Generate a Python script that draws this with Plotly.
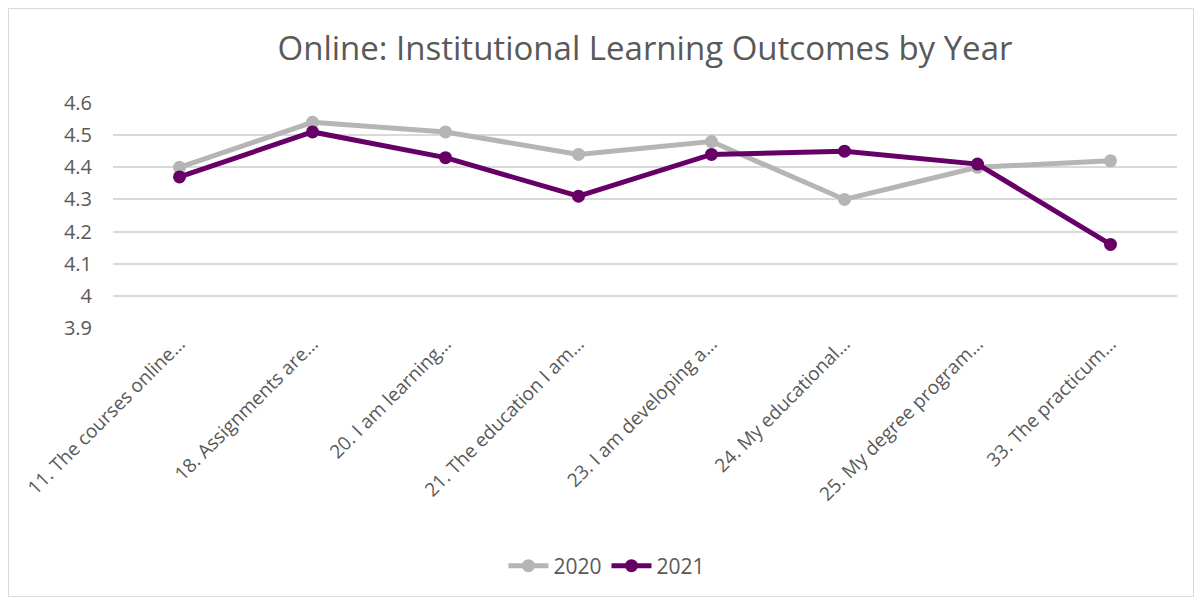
import plotly.graph_objects as go

categories = ["11. The courses online…", "18. Assignments are…", "20. I am learning…",
              "21. The education I am…", "23. I am developing a…", "24. My educational…",
              "25. My degree program…", "33. The practicum…"]
y2020 = [4.40, 4.54, 4.51, 4.44, 4.48, 4.30, 4.40, 4.42]
y2021 = [4.37, 4.51, 4.43, 4.31, 4.44, 4.45, 4.41, 4.16]
ytick_vals = [3.9, 4.0, 4.1, 4.2, 4.3, 4.4, 4.5, 4.6]
ytick_text = ["3.9", "4", "4.1", "4.2", "4.3", "4.4", "4.5", "4.6"]

# page has an 8px body margin; figure sized to fit inside
W, H = 1186, 589
ml, mr, mt, mb = 105, 17, 95, 269

fig = go.Figure()
fig.add_trace(go.Scatter(x=categories, y=y2020, name="2020", mode="lines+markers",
                         line=dict(color="#B5B5B5", width=5), marker=dict(size=13, color="#B5B5B5")))
fig.add_trace(go.Scatter(x=categories, y=y2021, name="2021", mode="lines+markers",
                         line=dict(color="#660066", width=5), marker=dict(size=13, color="#660066")))

pw = W - ml - mr
ph = H - mt - mb
fig.add_shape(type="rect", xref="paper", yref="paper",
              x0=(0.5 - ml) / pw, x1=(W - 0.5 - ml) / pw,
              y0=-(H - 0.5 - mt - ph) / ph, y1=1 + (mt - 0.5) / ph,
              line=dict(color="#D9D9D9", width=1), layer="below")

fig.update_layout(
    width=W, height=H,
    margin=dict(l=ml, r=mr, t=mt, b=mb, autoexpand=False),
    paper_bgcolor="white", plot_bgcolor="white",
    font=dict(family="Open Sans, sans-serif", color="#595959", size=19),
    title=dict(text="Online: Institutional Learning Outcomes by Year", x=0.5, xref="paper",
               xanchor="center", y=1 - 40 / H, yanchor="middle",
               font=dict(size=33, color="#595959")),
    xaxis=dict(type="category", range=[-0.5, 7.5], tickangle=-45, showgrid=False,
               showline=False, ticks="", automargin=False,
               tickfont=dict(size=19, color="#595959")),
    yaxis=dict(range=[3.9, 4.6], tickvals=ytick_vals, ticktext=ytick_text,
               showgrid=True, gridcolor="#D9D9D9", gridwidth=1.5, zeroline=False,
               showline=False, ticks="", ticklabelstandoff=20, automargin=False,
               tickfont=dict(size=20, color="#595959")),
    legend=dict(orientation="h", x=0.505, xanchor="center", xref="container", y=1 - 558 / H, yanchor="middle",
                yref="container", font=dict(size=21, color="#595959"), itemwidth=40),
    showlegend=True,
)

fig.write_html("out.html")
